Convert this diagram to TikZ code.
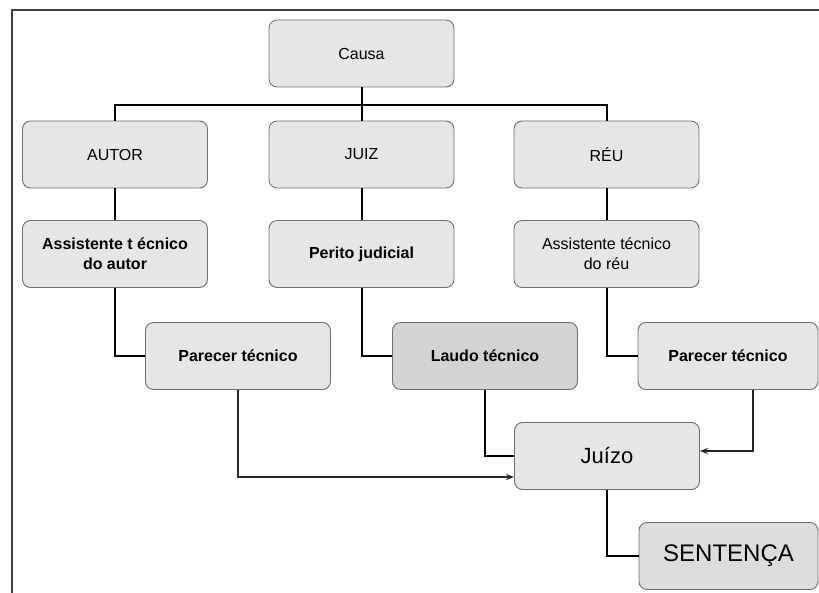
\documentclass[tikz,border=0pt]{standalone}
\usepackage{fontspec}
\setmainfont{Liberation Sans}
\usetikzlibrary{arrows.meta, positioning}

\definecolor{boxfill}{HTML}{E6E6E6}
\definecolor{laudofill}{HTML}{D3D3D3}
\definecolor{sentfill}{HTML}{DCDCDC}
\definecolor{boxline}{HTML}{6E6E6E}

\begin{document}
\begin{tikzpicture}[x=1pt, y=-1pt,
    box/.style={draw=boxline, line width=0.9pt, rounded corners=8pt, fill=boxfill,
        minimum width=185pt, minimum height=67pt, inner sep=0pt, align=center,
        font=\fontsize{16}{20}\selectfont},
    boldbox/.style={box, font=\fontsize{16}{20}\selectfont\bfseries},
    tree/.style={line width=2pt, black},
    feed/.style={line width=1.5pt, black!85, -{Stealth[length=8pt, width=6pt]}}]
    % Page and frame
    \useasboundingbox (0,0) rectangle (819,593);
    \draw[line width=1.5pt, black!75] (12,593) -- (12,10) -- (819,10);

    % Boxes
    \node[box] (causa) at (361.5,53.5) {Causa};
    \node[box] (autor) at (115,154.5) {AUTOR};
    \node[box] (juiz)  at (361.5,154.5) {JUIZ};
    \node[box] (reu)   at (606.5,154.5) {RÉU};
    \node[boldbox] (asautor) at (115,254) {Assistente t écnico\\do autor};
    \node[boldbox] (perito)  at (361.5,254) {Perito judicial};
    \node[box]     (asreu)   at (606.5,254) {Assistente técnico\\do réu};
    \node[boldbox] (parautor) at (238,356) {Parecer técnico};
    \node[boldbox, fill=laudofill] (laudo) at (485,356) {Laudo técnico};
    \node[boldbox, minimum width=180pt] (parreu) at (728,356) {Parecer técnico};
    \node[box, font=\fontsize{22}{25}\selectfont] (juizo) at (607,456) {Juízo};
    \node[box, fill=sentfill, minimum width=179pt, font=\fontsize{24}{27}\selectfont] (sentenca) at (728.5,556) {SENTENÇA};

    % Tree lines
    \draw[tree] (causa.south) -- ++(0,18) coordinate (bus);
    \draw[tree] (autor.north) |- (bus) -| (reu.north);
    \draw[tree] (bus) -- (juiz.north);
    \draw[tree] (autor.south) -- (asautor.north);
    \draw[tree] (juiz.south) -- (perito.north);
    \draw[tree] (reu.south) -- (asreu.north);
    \draw[tree] (asautor.south) |- (parautor.west);
    \draw[tree] (perito.south) |- (laudo.west);
    \draw[tree] (asreu.south) |- (parreu.west);
    \draw[tree] (laudo.south) |- (juizo.west);
    \draw[tree] (juizo.south) |- (sentenca.west);

    % Arrows into the judgement
    \draw[feed] (parautor.south) |- ([yshift=-21pt]juizo.west);
    \draw[feed] ([xshift=25pt]parreu.south) |- ([yshift=5pt]juizo.east);
\end{tikzpicture}
\end{document}
